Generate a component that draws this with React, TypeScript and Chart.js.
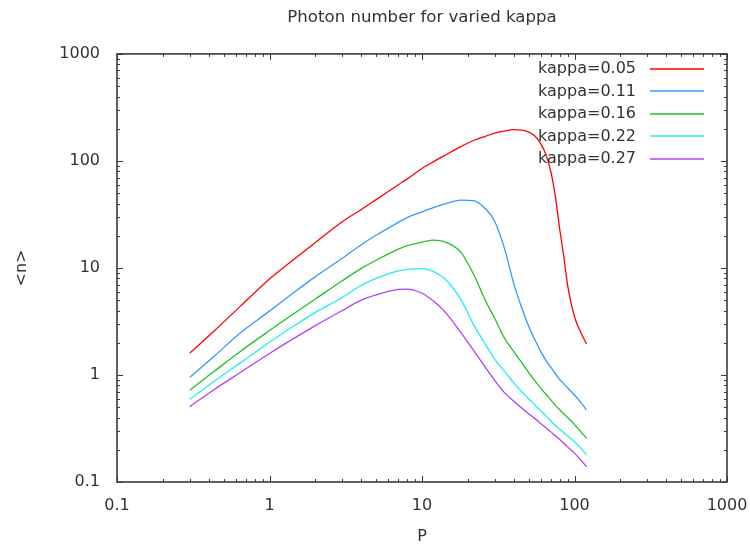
import { useEffect, useRef } from 'react';
import { Chart, registerables } from 'chart.js';

Chart.register(...registerables);

// Pump strength P (shared abscissa for every curve)
const P = [0.3, 0.43, 0.64, 1, 1.4, 2, 3, 4, 5, 7, 8, 10, 12, 14, 18, 22, 26, 30, 35, 40, 45, 50, 55, 60, 65, 70, 75, 80, 85, 90, 100, 110, 120];

// Mean photon number <n> for each cavity loss rate
const nKappa005 = [1.6, 2.55, 4.35, 7.9, 11.6, 17.3, 27, 35.2, 43.5, 60, 68, 85, 99, 112, 136, 156, 170, 182, 191, 196, 194, 186, 171, 145, 114, 79, 46, 23, 12.9, 7.0, 3.5, 2.5, 1.95];
const nKappa011 = [0.95, 1.48, 2.45, 3.95, 5.7, 8.3, 12.3, 16.5, 20.2, 26.7, 29.5, 33.4, 36.8, 39.5, 43, 42.3, 35.8, 27.2, 14.7, 7.1, 4.27, 2.87, 2.13, 1.66, 1.37, 1.18, 1.03, 0.905, 0.83, 0.76, 0.65, 0.555, 0.47];
const nKappa016 = [0.72, 1.07, 1.65, 2.6, 3.63, 5.13, 7.6, 9.9, 11.8, 15.0, 16.2, 17.4, 18.2, 17.6, 14.0, 8.5, 5.0, 3.37, 2.17, 1.65, 1.31, 1.06, 0.88, 0.755, 0.66, 0.585, 0.52, 0.473, 0.434, 0.40, 0.344, 0.295, 0.256];
const nKappa022 = [0.59, 0.865, 1.29, 2.02, 2.79, 3.85, 5.3, 6.9, 7.98, 9.4, 9.7, 9.85, 9.2, 8.0, 5.05, 2.88, 1.94, 1.40, 1.07, 0.845, 0.70, 0.60, 0.525, 0.464, 0.415, 0.372, 0.336, 0.311, 0.289, 0.27, 0.238, 0.207, 0.179];
const nKappa027 = [0.506, 0.724, 1.05, 1.59, 2.14, 2.89, 4.0, 5.0, 5.6, 6.3, 6.35, 5.8, 4.85, 3.95, 2.49, 1.66, 1.18, 0.89, 0.676, 0.568, 0.492, 0.435, 0.391, 0.353, 0.321, 0.294, 0.27, 0.25, 0.23, 0.213, 0.186, 0.16, 0.139];

const seriesLabels = ['kappa=0.05', 'kappa=0.11', 'kappa=0.16', 'kappa=0.22', 'kappa=0.27'];
const seriesValues = [nKappa005, nKappa011, nKappa016, nKappa022, nKappa027];
const seriesColors = ['#ff0000', '#3399ff', '#22c022', '#22eeee', '#b040ff'];

// Labelled decades on both log axes
const decadeTicks = [0.1, 1, 10, 100, 1000];

const FONT_FAMILY = '"DejaVu Sans", "Liberation Sans", sans-serif';
const TEXT_COLOR = '#333333';
const FRAME_COLOR = '#3a3a3a';

// Border box with inward major/minor tick marks on all four sides
const framePlugin = {
  id: 'frameTicks',
  afterDatasetsDraw(chart: any) {
    const { ctx, chartArea } = chart;
    const { left, right, top, bottom } = chartArea;
    const xs = chart.scales.x;
    const ys = chart.scales.y;
    const minors: number[] = [];
    for (let i = 0; i < decadeTicks.length - 1; i++) {
      for (let m = 2; m <= 9; m++) minors.push(decadeTicks[i] * m);
    }
    const MAJOR = 6;
    const MINOR = 3;
    ctx.save();
    ctx.strokeStyle = FRAME_COLOR;
    ctx.lineWidth = 1;
    ctx.beginPath();
    const tick = (vals: number[], len: number) => {
      for (const v of vals) {
        const px = Math.round(xs.getPixelForValue(v)) + 0.5;
        ctx.moveTo(px, bottom);
        ctx.lineTo(px, bottom - len);
        ctx.moveTo(px, top);
        ctx.lineTo(px, top + len);
        const py = Math.round(ys.getPixelForValue(v)) + 0.5;
        ctx.moveTo(left, py);
        ctx.lineTo(left + len, py);
        ctx.moveTo(right, py);
        ctx.lineTo(right - len, py);
      }
    };
    tick(decadeTicks, MAJOR);
    tick(minors, MINOR);
    ctx.stroke();
    ctx.lineWidth = 1.6;
    ctx.strokeRect(left, top, right - left, bottom - top);
    ctx.restore();
  },
};

// Key in the upper right: label text followed by a sample line
const keyPlugin = {
  id: 'gnuKey',
  afterDraw(chart: any) {
    const { ctx, chartArea } = chart;
    const textRight = chartArea.right - 91;
    const lineStart = chartArea.right - 77;
    const lineEnd = chartArea.right - 23;
    ctx.save();
    ctx.font = `16px ${FONT_FAMILY}`;
    ctx.textAlign = 'right';
    ctx.textBaseline = 'middle';
    seriesLabels.forEach((label, i) => {
      const y = chartArea.top + 15 + i * 22.5;
      ctx.fillStyle = TEXT_COLOR;
      ctx.fillText(label, textRight, y);
      ctx.strokeStyle = seriesColors[i];
      ctx.lineWidth = 1.4;
      ctx.beginPath();
      ctx.moveTo(lineStart, Math.round(y));
      ctx.lineTo(lineEnd, Math.round(y));
      ctx.stroke();
    });
    ctx.restore();
  },
};

export default function App() {
  const canvasRef = useRef<HTMLCanvasElement | null>(null);

  useEffect(() => {
    const canvas = canvasRef.current;
    if (!canvas) return;

    const datasets = seriesLabels.map((label, i) => ({
      label,
      data: P.map((p, j) => ({ x: p, y: seriesValues[i][j] })),
      borderColor: seriesColors[i],
      backgroundColor: seriesColors[i],
      borderWidth: 1.3,
      pointRadius: 0,
      fill: false,
      cubicInterpolationMode: 'monotone' as const,
    }));

    const restrictTicks = (scale: any) => {
      scale.ticks = decadeTicks.map((value) => ({ value }));
    };

    const chart = new Chart(canvas, {
      type: 'line',
      data: { datasets },
      options: {
        responsive: false,
        devicePixelRatio: 1,
        animation: false,
        layout: { padding: { left: 0, top: 0, right: 23, bottom: 0 } },
        plugins: {
          legend: { display: false },
          tooltip: { enabled: false },
          title: {
            display: true,
            text: 'Photon number for varied kappa',
            fullSize: false,
            color: TEXT_COLOR,
            font: { family: FONT_FAMILY, size: 16.6, weight: 'normal', lineHeight: 1.2 },
            padding: { top: 8, bottom: 26 },
          },
        },
        scales: {
          x: {
            type: 'logarithmic',
            min: 0.1,
            max: 1000,
            afterBuildTicks: restrictTicks,
            afterFit: (scale: any) => {
              scale.height = 64;
              scale.paddingLeft = 0;
              scale.paddingRight = 0;
            },
            grid: { display: false, drawTicks: false },
            border: { display: false },
            ticks: {
              color: TEXT_COLOR,
              font: { family: FONT_FAMILY, size: 16 },
              padding: 14,
              maxRotation: 0,
              autoSkip: false,
              callback: (v: any) => String(v),
            },
            title: {
              display: true,
              text: 'P',
              color: TEXT_COLOR,
              font: { family: FONT_FAMILY, size: 16 },
              padding: { top: 0, bottom: 0 },
            },
          },
          y: {
            type: 'logarithmic',
            min: 0.1,
            max: 1000,
            afterBuildTicks: restrictTicks,
            afterFit: (scale: any) => {
              scale.width = 117;
              scale.paddingTop = 0;
              scale.paddingBottom = 0;
            },
            grid: { display: false, drawTicks: false },
            border: { display: false },
            ticks: {
              color: TEXT_COLOR,
              font: { family: FONT_FAMILY, size: 16 },
              padding: 17,
              autoSkip: false,
              callback: (v: any) => String(v),
            },
            title: {
              display: true,
              text: '<n>',
              color: TEXT_COLOR,
              font: { family: FONT_FAMILY, size: 16 },
              padding: { top: 12, bottom: 0 },
            },
          },
        },
      },
      plugins: [framePlugin, keyPlugin],
    });

    return () => {
      chart.destroy();
    };
  }, []);

  return (
    <div style={{ position: 'fixed', left: 0, top: 0, width: 750, height: 546, background: '#ffffff' }}>
      <canvas ref={canvasRef} width={750} height={546} style={{ display: 'block' }} />
    </div>
  );
}
